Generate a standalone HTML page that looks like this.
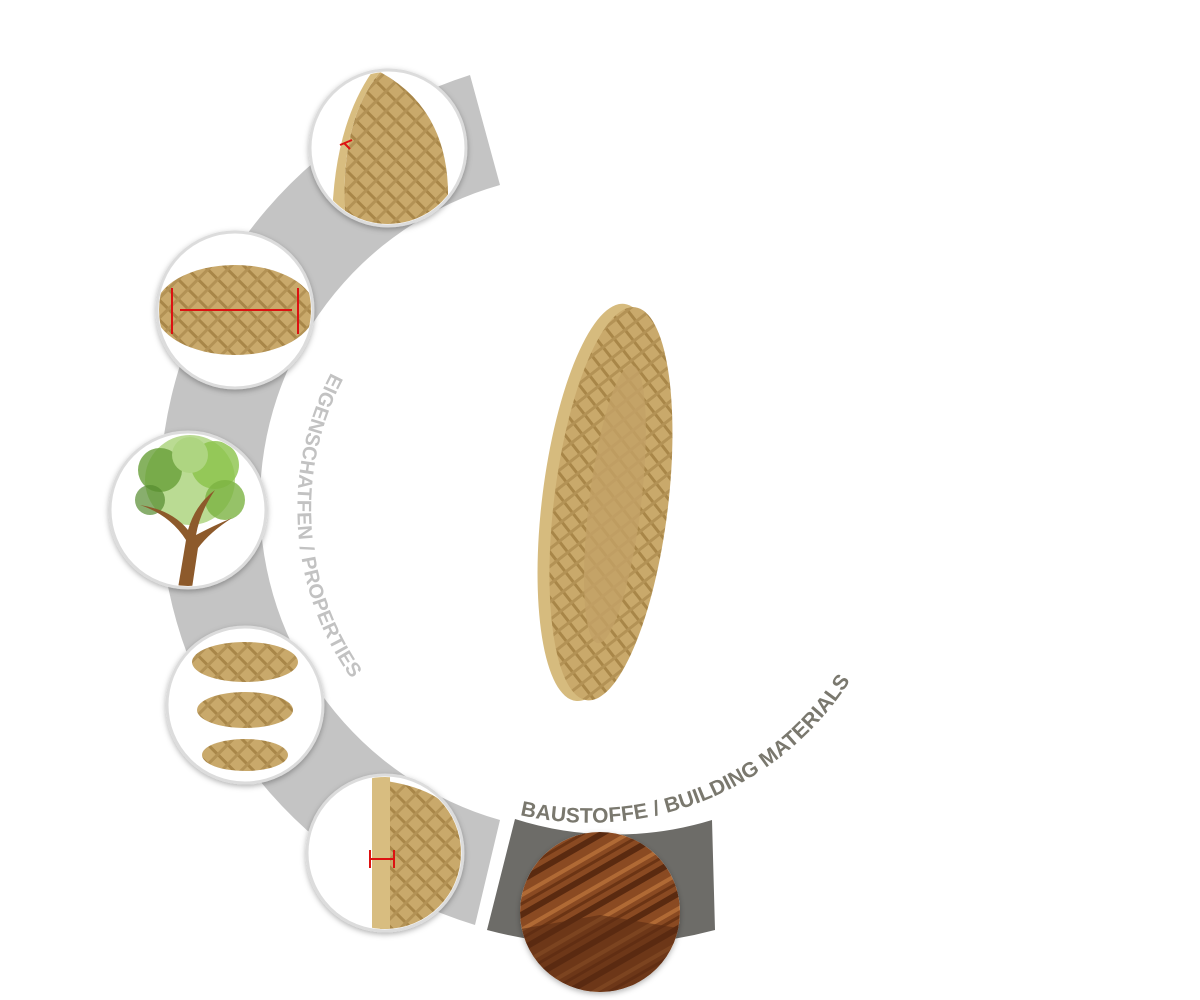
<!DOCTYPE html>
<html><head><meta charset="utf-8"><style>
html,body{margin:0;padding:0;background:#fff;}
svg{display:block;}
</style></head><body>
<svg width="1200" height="1000" viewBox="0 0 1200 1000" xmlns="http://www.w3.org/2000/svg">
<defs>
<pattern id="hatch" width="14" height="14" patternUnits="userSpaceOnUse" patternTransform="rotate(45)">
<rect width="14" height="14" fill="#c9a96b"/>
<rect width="14" height="3" fill="#a88648"/>
<rect width="3" height="14" fill="#b39255"/>
</pattern>
<pattern id="wood" width="30" height="30" patternUnits="userSpaceOnUse" patternTransform="rotate(-30)">
<rect width="30" height="30" fill="#8a4a22"/>
<rect y="0" width="30" height="6" fill="#5a2a10"/>
<rect y="14" width="30" height="4" fill="#b06a35"/>
<rect y="22" width="30" height="3" fill="#6b3414"/>
</pattern>
<filter id="sh" x="-20%" y="-20%" width="140%" height="140%"><feDropShadow dx="0" dy="2" stdDeviation="3" flood-color="#000" flood-opacity="0.3"/></filter>
<clipPath id="c1"><circle cx="388" cy="148" r="76"/></clipPath>
<clipPath id="c2"><circle cx="235" cy="310" r="76"/></clipPath>
<clipPath id="c3"><circle cx="188" cy="510" r="76"/></clipPath>
<clipPath id="c4"><circle cx="245" cy="705" r="76"/></clipPath>
<clipPath id="c5"><circle cx="385" cy="853" r="76"/></clipPath>
<clipPath id="c6"><circle cx="600" cy="912" r="80"/></clipPath>
<path id="tp1" d="M 333 369 A 293 293 0 0 0 384 717" fill="none"/>
<path id="tp2" d="M 520 815 A 311 311 0 0 0 848 684" fill="none"/>
</defs>

<path d="M 470 75 A 445 445 0 0 0 475 925 L 500 820 A 330 330 0 0 1 500 185 Z" fill="#c4c4c4"/>
<path d="M 487 930 A 445 445 0 0 0 715 930 L 712 820 A 330 330 0 0 1 515 819 Z" fill="#6d6c68"/>

<text font-family="Liberation Sans, sans-serif" font-weight="bold" font-size="20" fill="#c2c2c2" letter-spacing="0.3"><textPath href="#tp1" startOffset="4">EIGENSCHATFEN / PROPERTIES</textPath></text>
<text font-family="Liberation Sans, sans-serif" font-weight="bold" font-size="21" fill="#7a786e" letter-spacing="0.2"><textPath href="#tp2" startOffset="0">BAUSTOFFE / BUILDING MATERIALS</textPath></text>

<g filter="url(#sh)">
<circle cx="388" cy="148" r="78" fill="#fff" stroke="#dcdcdc" stroke-width="3"/>
<circle cx="235" cy="310" r="78" fill="#fff" stroke="#dcdcdc" stroke-width="3"/>
<circle cx="188" cy="510" r="78" fill="#fff" stroke="#dcdcdc" stroke-width="3"/>
<circle cx="245" cy="705" r="78" fill="#fff" stroke="#dcdcdc" stroke-width="3"/>
<circle cx="385" cy="853" r="78" fill="#fff" stroke="#dcdcdc" stroke-width="3"/>
<circle cx="600" cy="912" r="80" fill="#fff"/>
</g>

<g clip-path="url(#c1)">
<path d="M 345 215 Q 340 120 380 72 Q 450 110 448 200 Q 440 225 400 240 L 340 240 Z" fill="url(#hatch)"/>
<path d="M 345 215 Q 340 120 380 72 L 372 72 Q 332 130 332 230 Z" fill="#d8bd80"/>
<path d="M 340 145 L 352 140 M 344 143 l 6 6" stroke="#d11" stroke-width="2"/>
</g>
<g clip-path="url(#c2)">
<ellipse cx="235" cy="310" rx="80" ry="45" fill="url(#hatch)"/>
<line x1="180" y1="310" x2="292" y2="310" stroke="#d11" stroke-width="2"/>
<line x1="172" y1="288" x2="172" y2="334" stroke="#d11" stroke-width="2"/>
<line x1="298" y1="288" x2="298" y2="334" stroke="#d11" stroke-width="2"/>
</g>
<g clip-path="url(#c3)">
<circle cx="190" cy="480" r="45" fill="#9ccc65" opacity="0.7"/>
<circle cx="160" cy="470" r="22" fill="#689f38" opacity="0.8"/>
<circle cx="215" cy="465" r="24" fill="#8bc34a" opacity="0.8"/>
<circle cx="190" cy="455" r="18" fill="#aed581"/>
<circle cx="225" cy="500" r="20" fill="#7cb342" opacity="0.8"/>
<circle cx="150" cy="500" r="15" fill="#558b2f" opacity="0.7"/>
<path d="M 178 588 L 186 540 Q 170 515 140 505 Q 172 510 188 530 Q 195 505 215 490 Q 200 512 196 535 Q 215 525 232 518 Q 210 532 198 548 L 192 588 Z" fill="#8d5a2b"/>
</g>
<g clip-path="url(#c4)">
<ellipse cx="245" cy="662" rx="53" ry="20" fill="url(#hatch)"/>
<ellipse cx="245" cy="710" rx="48" ry="18" fill="url(#hatch)"/>
<ellipse cx="245" cy="755" rx="43" ry="16" fill="url(#hatch)"/>
</g>
<g clip-path="url(#c5)">
<path d="M 378 780 Q 470 790 470 860 Q 460 930 380 935 Z" fill="url(#hatch)"/>
<rect x="372" y="775" width="18" height="165" fill="#d8bd80"/>
<path d="M 370 850 V 868 M 370 859 H 394 M 394 850 V 868" stroke="#d11" stroke-width="2" fill="none"/>
</g>
<g clip-path="url(#c6)">
<rect x="515" y="830" width="170" height="170" fill="url(#wood)"/>
<path d="M 515 930 L 600 915 L 690 930 L 690 1000 L 515 1000 Z" fill="#5a2c12" opacity="0.6"/>
</g>

<g transform="rotate(7 605 503)">
<ellipse cx="600" cy="503" rx="58" ry="200" fill="#d6bb7e"/>
<ellipse cx="611" cy="503" rx="57" ry="198" fill="url(#hatch)"/>
<ellipse cx="615" cy="503" rx="26" ry="140" fill="#c3a166" opacity="0.8"/>
</g>
</svg>
</body></html>
